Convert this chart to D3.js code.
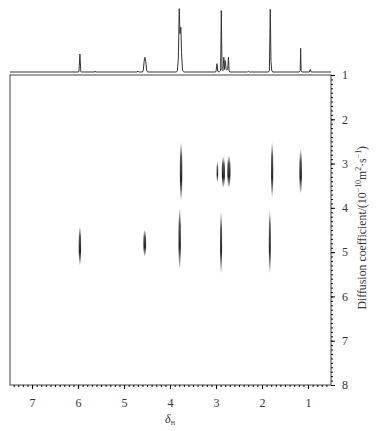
<!DOCTYPE html>
<html>
<head>
<meta charset="utf-8">
<script src="https://cdn.jsdelivr.net/npm/d3@7"></script>
<style>
body { margin: 0; background: #fff; }
text { font-family: "Liberation Serif", "Times New Roman", serif; fill: #333; }
</style>
</head>
<body>
<svg id="chart" width="380" height="431"></svg>
<script>
// 1D 1H spectrum (ppm, relative intensity)
var specPpm = [7.48, 6.00, 5.98, 5.96, 5.94, 5.92, 5.64, 5.63, 5.62, 4.72, 4.70, 4.68,
  4.60, 4.58, 4.565, 4.555, 4.545, 4.535, 4.525, 4.51, 4.49,
  3.86, 3.84, 3.82, 3.80, 3.785, 3.765, 3.75, 3.73, 3.71, 3.69,
  3.02, 3.00, 2.98, 2.96, 2.93, 2.90, 2.885, 2.87, 2.85, 2.83, 2.815, 2.80, 2.78, 2.765, 2.745, 2.73, 2.715, 2.70,
  2.32, 2.30, 2.28, 1.86, 1.84, 1.82, 1.805, 1.79, 1.77,
  1.19, 1.17, 1.16, 1.15, 1.13, 0.97, 0.95, 0.93, 0.50];
var specInt = [0, 0, 0.5, 28, 0.5, 0, 0, 1.5, 0, 0, 1.5, 0,
  0, 3, 16, 21, 23, 20, 14, 3, 0,
  0, 2, 20, 99, 60, 70, 30, 3, 0.5, 0,
  0, 0.5, 13, 1, 0, 2, 96, 4, 2, 23, 4, 18, 4, 3, 4, 23, 2, 0,
  0, 1.2, 0, 0, 2, 98, 16, 3, 0,
  0, 2, 37, 2, 0, 0, 4, 0, 0];

// DOSY cross peaks: chemical shift and diffusion range
var peakPpm = [3.76, 2.97, 2.84, 2.72, 1.78, 1.16, 5.96, 4.55, 3.79, 2.89, 1.83];
var peakDlo = [2.53, 2.96, 2.85, 2.83, 2.53, 2.69, 4.43, 4.50, 4.02, 4.09, 4.05];
var peakDhi = [3.82, 3.42, 3.53, 3.53, 3.75, 3.66, 5.29, 5.09, 5.36, 5.47, 5.47];
var peakW   = [1.2, 0.8, 1.6, 1.6, 1.1, 1.3, 1.2, 1.4, 1.2, 1.0, 1.0];

var xTicks = [7, 6, 5, 4, 3, 2, 1];
var yTicks = [1, 2, 3, 4, 5, 6, 7, 8];

var box = {left: 10, right: 331, top: 75, bottom: 385};

var svg = d3.select("#chart");

var x = d3.scaleLinear().domain([7.48, 0.5]).range([box.left, box.right]);
var y = d3.scaleLinear().domain([1, 8]).range([box.top, box.bottom]);
var yS = d3.scaleLinear().domain([0, 100]).range([72, 8]);

// gradient for the elongated cross peaks
var grad = svg.append("defs").append("linearGradient")
    .attr("id", "pk")
    .attr("x1", 0).attr("y1", 0).attr("x2", 0).attr("y2", 1);
grad.append("stop").attr("offset", "0%").attr("stop-color", "#ddd");
grad.append("stop").attr("offset", "25%").attr("stop-color", "#555");
grad.append("stop").attr("offset", "65%").attr("stop-color", "#222");
grad.append("stop").attr("offset", "100%").attr("stop-color", "#ccc");

//1D projection on top
var spec = specPpm.map(function(p, i) { return [p, specInt[i]]; });
svg.append("path")
    .datum(spec)
    .attr("fill", "none")
    .attr("stroke", "#333")
    .attr("stroke-width", 1)
    .attr("d", d3.line()
        .x(function(d) { return x(d[0]); })
        .y(function(d) { return yS(d[1]); }));

//plot frame
svg.append("rect")
    .attr("x", box.left).attr("y", box.top)
    .attr("width", box.right - box.left).attr("height", box.bottom - box.top)
    .attr("fill", "none")
    .attr("stroke", "#444")
    .attr("stroke-width", 1);

//cross peaks
svg.selectAll("ellipse.pk")
    .data(peakPpm)
    .enter()
    .append("ellipse")
        .attr("class", "pk")
        .attr("cx", function(d) { return x(d); })
        .attr("cy", function(d, i) { return (y(peakDlo[i]) + y(peakDhi[i])) / 2; })
        .attr("rx", function(d, i) { return peakW[i]; })
        .attr("ry", function(d, i) { return (y(peakDhi[i]) - y(peakDlo[i])) / 2; })
        .attr("fill", "url(#pk)");

//bottom axis
var xMinor = d3.range(7.4, 0.55, -0.1);
svg.append("g")
    .attr("transform", "translate(0," + box.bottom + ")")
    .call(d3.axisBottom(x).tickValues(xMinor).tickSize(2).tickFormat(""))
    .call(function(g) { g.select(".domain").remove(); });
svg.append("g")
    .attr("transform", "translate(0," + box.bottom + ")")
    .call(d3.axisBottom(x).tickValues(xTicks).tickSize(4).tickPadding(9).tickFormat(d3.format("d")))
    .call(function(g) {
        g.select(".domain").remove();
        g.selectAll("text").style("font-size", "12px").attr("fill", "#333")
            .style("font-family", "'Liberation Serif', serif");
    });

//right axis
var yMinor = d3.range(1, 8.01, 0.1);
svg.append("g")
    .attr("transform", "translate(" + box.right + ",0)")
    .call(d3.axisRight(y).tickValues(yMinor).tickSize(2).tickFormat(""))
    .call(function(g) { g.select(".domain").remove(); });
svg.append("g")
    .attr("transform", "translate(" + box.right + ",0)")
    .call(d3.axisRight(y).tickValues(yTicks).tickSize(4).tickPadding(7).tickFormat(d3.format("d")))
    .call(function(g) {
        g.select(".domain").remove();
        g.selectAll("text").style("font-size", "12px").attr("fill", "#333")
            .style("font-family", "'Liberation Serif', serif");
    });

//x label
var xl = svg.append("text")
    .attr("x", x(4))
    .attr("y", 423)
    .style("text-anchor", "middle")
    .style("font-size", "12px");
xl.append("tspan").style("font-style", "italic").text("δ");
xl.append("tspan").attr("dy", 2).style("font-size", "6px").text("H");

//y label, sized to span roughly D = 2.6 .. 6.3
var yl = svg.append("text")
    .attr("transform", "translate(366," + ((y(2.6) + y(6.3)) / 2) + ") rotate(-90)")
    .style("text-anchor", "middle")
    .style("font-size", "12px");
yl.append("tspan").text("Diffusion coefficient/(10");
yl.append("tspan").attr("dy", -5).style("font-size", "8px").text("−10");
yl.append("tspan").attr("dy", 5).text("m");
yl.append("tspan").attr("dy", -5).style("font-size", "8px").text("2");
yl.append("tspan").attr("dy", 5).text("·s");
yl.append("tspan").attr("dy", -5).style("font-size", "8px").text("−1");
yl.append("tspan").attr("dy", 5).text(")");
var want = y(6.3) - y(2.6);
var have = yl.node().getComputedTextLength();
if (have > 0) {
    var k = want / have;
    yl.style("font-size", (12 * k) + "px");
    yl.selectAll("tspan").each(function() {
        var t = d3.select(this);
        if (t.style("font-size") === "8px") t.style("font-size", (8 * k) + "px");
        var dy = +t.attr("dy");
        if (dy) t.attr("dy", dy * k);
    });
}
</script>
</body>
</html>
